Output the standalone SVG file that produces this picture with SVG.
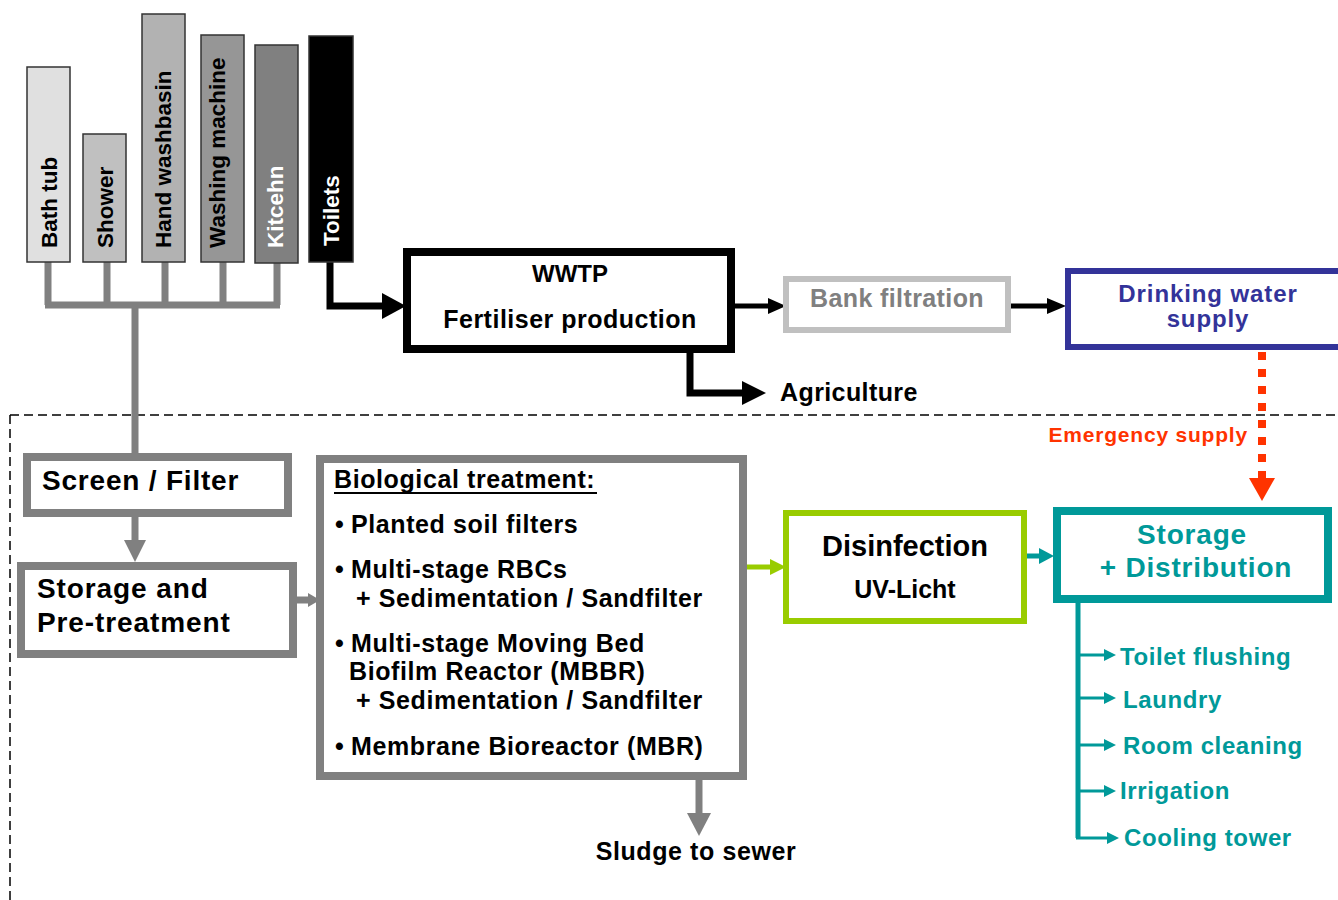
<svg xmlns="http://www.w3.org/2000/svg" width="1338" height="900" viewBox="0 0 1338 900">
<style>
text{font-family:"Liberation Sans",Arial,sans-serif;font-weight:bold;fill:#000}
.bar{stroke:#333;stroke-width:1.5}
.bt{font-size:22.5px}
.gl{stroke:#808080;stroke-width:7;fill:none}
.gh{fill:#808080}
.bl{stroke:#000;stroke-width:7;fill:none}
.gbox{fill:#fff;stroke:#808080;stroke-width:8}
.bio{font-size:25px;letter-spacing:0.6px}
.dist{font-size:24px;letter-spacing:0.6px;fill:#009999}
.teal{fill:#009999}
</style>
<rect width="1338" height="900" fill="#fff"/>
<g id="boundary">
<path d="M10,415 H1338 M10,415 V900" stroke="#000" stroke-width="1.5" stroke-dasharray="9 5" fill="none"/>
</g>
<g id="connectors">
<path class="gl" d="M48,262 V305 M107,262 V305 M165,262 V305 M223,262 V305 M277,262 V305 M45,305 H280 M135,305 V454"/>
<path class="bl" d="M330,262 V306 H383"/>
<polygon points="382,293 406,306 382,319" fill="#000"/>
<path class="bl" d="M690,352 V393 H743"/>
<polygon points="742,381 766,393 742,405" fill="#000"/>
<path d="M735,306 H770" stroke="#000" stroke-width="5"/>
<polygon points="768,298 786,306 768,314" fill="#000"/>
<path d="M1011,306 H1049" stroke="#000" stroke-width="5"/>
<polygon points="1047,298 1066,306 1047,314" fill="#000"/>
<path d="M1262,352 V478" stroke="#ff3300" stroke-width="8" stroke-dasharray="8 9"/>
<polygon points="1249,478 1275,478 1262,501" fill="#ff3300"/>
<path class="gl" d="M135,517 V541"/>
<polygon class="gh" points="124,540 146,540 135,562"/>
<path class="gl" d="M297,600 H309"/>
<polygon class="gh" points="308,593 320,600 308,607"/>
<path class="gl" d="M699,780 V814"/>
<polygon class="gh" points="687,813 711,813 699,836"/>
<path d="M747,567 H771" stroke="#99cc00" stroke-width="5"/>
<polygon points="770,559 786,567 770,575" fill="#99cc00"/>
<path d="M1026,556 H1040" stroke="#009999" stroke-width="5"/>
<polygon class="teal" points="1039,548 1054,556 1039,564"/>
<path d="M1078,603 V838" stroke="#009999" stroke-width="5"/>
<path d="M1078,655 H1106 M1078,698 H1106 M1078,745 H1106 M1078,791 H1106 M1076,838 H1108" stroke="#009999" stroke-width="3"/>
<polygon class="teal" points="1104,649 1116,655 1104,661"/>
<polygon class="teal" points="1104,692 1116,698 1104,704"/>
<polygon class="teal" points="1104,739 1116,745 1104,751"/>
<polygon class="teal" points="1104,785 1116,791 1104,797"/>
<polygon class="teal" points="1107,832 1119,838 1107,844"/>
</g>
<g id="bathtub"><rect class="bar" x="27" y="67" width="43" height="195" fill="#e0e0e0"/><text class="bt" transform="translate(57,248) rotate(-90)">Bath tub</text></g>
<g id="shower"><rect class="bar" x="83" y="134" width="43" height="128" fill="#c0c0c0"/><text class="bt" transform="translate(113,248) rotate(-90)">Shower</text></g>
<g id="handwashbasin"><rect class="bar" x="142" y="14" width="43" height="248" fill="#b2b2b2"/><text class="bt" transform="translate(171,248) rotate(-90)">Hand washbasin</text></g>
<g id="washingmachine"><rect class="bar" x="201" y="35" width="43" height="227" fill="#969696"/><text class="bt" transform="translate(225,248) rotate(-90)">Washing machine</text></g>
<g id="kitchen"><rect class="bar" x="255" y="45" width="43" height="218" fill="#808080"/><text class="bt" transform="translate(283,248) rotate(-90)" style="fill:#fff">Kitcehn</text></g>
<g id="toilets"><rect class="bar" x="309" y="36" width="44" height="226" fill="#000"/><text class="bt" transform="translate(339,246) rotate(-90)" style="fill:#fff">Toilets</text></g>
<g id="wwtp">
<rect x="407" y="252" width="324" height="97" fill="#fff" stroke="#000" stroke-width="8"/>
<text x="570" y="282" text-anchor="middle" font-size="24">WWTP</text>
<text x="570" y="328" text-anchor="middle" font-size="25" letter-spacing="0.5">Fertiliser production</text>
</g>
<g id="agriculture"><text x="780" y="401" font-size="25" letter-spacing="0.4">Agriculture</text></g>
<g id="bankfiltration">
<rect x="786" y="279" width="222" height="51" fill="#fff" stroke="#c0c0c0" stroke-width="6"/>
<text x="897" y="307" text-anchor="middle" font-size="25" letter-spacing="0.4" style="fill:#808080">Bank filtration</text>
</g>
<g id="drinkingwater">
<rect x="1068" y="271" width="300" height="76" fill="#fff" stroke="#333399" stroke-width="6"/>
<text x="1208" y="302" text-anchor="middle" font-size="24" letter-spacing="0.9" style="fill:#333399">Drinking water</text>
<text x="1208" y="327" text-anchor="middle" font-size="24" letter-spacing="0.9" style="fill:#333399">supply</text>
</g>
<g id="emergency"><text x="1248" y="442" text-anchor="end" font-size="21" letter-spacing="0.8" style="fill:#ff3300">Emergency supply</text></g>
<g id="screenfilter">
<rect class="gbox" x="27" y="457" width="261" height="56"/>
<text x="42" y="490" font-size="28" letter-spacing="0.8">Screen / Filter</text>
</g>
<g id="storagepre">
<rect class="gbox" x="21" y="566" width="272" height="88"/>
<text x="37" y="598" font-size="28" letter-spacing="0.9">Storage and</text>
<text x="37" y="632" font-size="28" letter-spacing="0.9">Pre-treatment</text>
</g>
<g id="biological">
<rect class="gbox" x="320" y="459" width="423" height="317"/>
<text class="bio" x="334" y="488">Biological treatment:</text>
<rect x="334" y="492" width="263" height="2" fill="#000"/>
<text class="bio" x="335" y="533">•</text><text class="bio" x="351" y="533">Planted soil filters</text>
<text class="bio" x="335" y="578">•</text><text class="bio" x="351" y="578">Multi-stage RBCs</text>
<text class="bio" x="356" y="607">+ Sedimentation / Sandfilter</text>
<text class="bio" x="335" y="652">•</text><text class="bio" x="351" y="652">Multi-stage Moving Bed</text>
<text class="bio" x="349" y="680">Biofilm Reactor (MBBR)</text>
<text class="bio" x="356" y="709">+ Sedimentation / Sandfilter</text>
<text class="bio" x="335" y="755">•</text><text class="bio" x="351" y="755">Membrane Bioreactor (MBR)</text>
</g>
<g id="sludge"><text class="bio" x="696" y="860" text-anchor="middle">Sludge to sewer</text></g>
<g id="disinfection">
<rect x="786" y="513" width="238" height="108" fill="#fff" stroke="#99cc00" stroke-width="6"/>
<text x="905" y="556" text-anchor="middle" font-size="29">Disinfection</text>
<text x="905" y="598" text-anchor="middle" font-size="25">UV-Licht</text>
</g>
<g id="storagedist">
<rect x="1057" y="511" width="271" height="88" fill="#fff" stroke="#009999" stroke-width="8"/>
<text x="1192" y="544" text-anchor="middle" font-size="28" letter-spacing="0.8" style="fill:#009999">Storage</text>
<text x="1196" y="577" text-anchor="middle" font-size="28" letter-spacing="0.8" style="fill:#009999">+ Distribution</text>
</g>
<g id="uses">
<text class="dist" x="1120" y="665">Toilet flushing</text>
<text class="dist" x="1123" y="708">Laundry</text>
<text class="dist" x="1123" y="754">Room cleaning</text>
<text class="dist" x="1120" y="799">Irrigation</text>
<text class="dist" x="1124" y="846">Cooling tower</text>
</g>
</svg>
